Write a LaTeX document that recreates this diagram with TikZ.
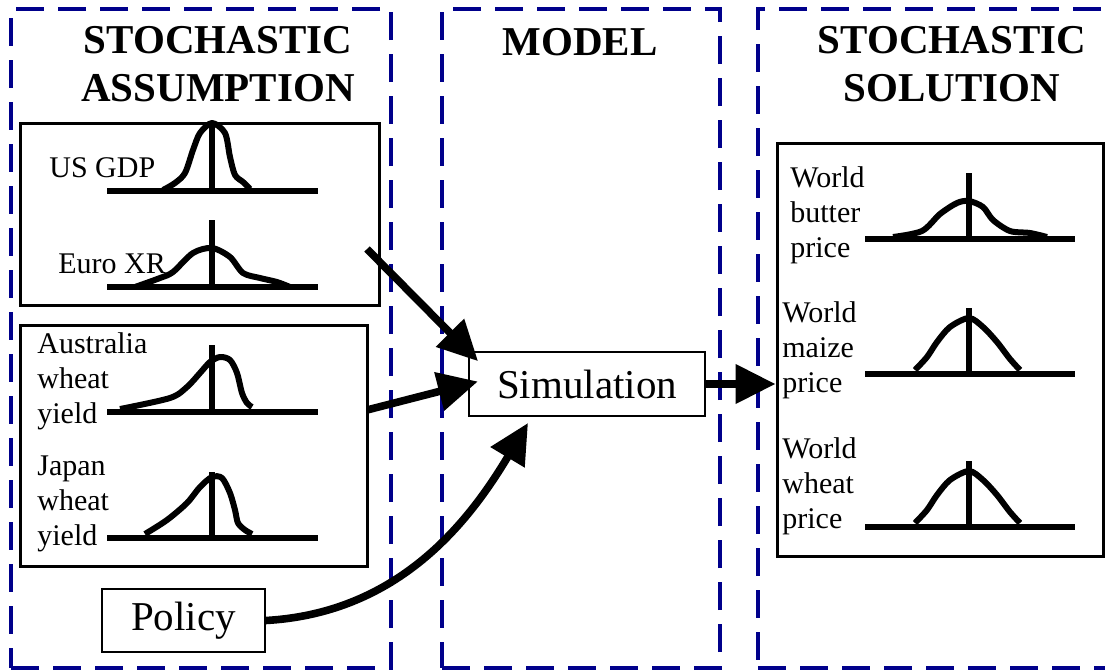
\documentclass[tikz,border=0pt]{standalone}
\usepackage{fontspec}
\setmainfont{Liberation Serif}
\usetikzlibrary{arrows.meta,fit}
\definecolor{panelnavy}{RGB}{0,0,139}

\begin{document}
\begin{tikzpicture}[x=0.5pt,y=-0.5pt,
    column/.style={draw=panelnavy,line width=1.6pt,dash pattern=on 14pt off 7pt,inner sep=0pt},
    setbox/.style={draw,line width=1.5pt,inner sep=0pt},
    heading/.style={font=\fontsize{20.5}{24}\selectfont\bfseries,align=center},
    varlabel/.style={font=\fontsize{15}{17.5}\selectfont,align=left,anchor=west,inner sep=0pt},
    procbox/.style={draw,line width=0.8pt,font=\fontsize{20.5}{24}\selectfont},
    axisline/.style={line width=3.3pt},
    density/.style={line width=3pt,line join=round},
    flow/.style={line width=3.8pt,-{Triangle[length=20pt,width=19pt]}}]
  \useasboundingbox (0,0) rectangle (1105,670);
  % columns and headings
  \node (assume) [column,fit={(11,9) (391,668)}] {};
  \node (model) [column,fit={(442,9) (720,668)}] {};
  \node (solve) [column,fit={(758,9) (1125,668)}] {};
  \node (tassume) [heading] at (218,64) {STOCHASTIC\\ASSUMPTION};
  \node (tmodel) [heading] at (580,42) {MODEL};
  \node (tsolve) [heading] at (952,64) {STOCHASTIC\\SOLUTION};
  % input groups
  \node (macro) [setbox,fit={(20,123) (379,305)}] {};
  \node (yields) [setbox,fit={(20,325) (367,566)}] {};
  \node (prices) [setbox,fit={(777,143) (1103,556)}] {};
  % US GDP
  \node (gdp) [varlabel,anchor=base west] at (49,177) {US GDP};
  \draw[axisline] (107,191) -- (318,191) (212,191) -- (212,122);
  \draw[density] plot[smooth] coordinates {(163,190) (175,183) (185,173) (193,150)
    (200,133) (212,123) (225,133) (230,157) (235,175) (243,182) (250,189)};
  % Euro XR
  \node (euro) [varlabel,anchor=base west] at (58,273) {Euro XR};
  \draw[axisline] (107,287) -- (318,287) (212,287) -- (212,220);
  \draw[density] plot[smooth] coordinates {(135,287) (160,278) (173,272) (193,253)
    (212,248) (230,257) (243,273) (260,278) (277,282) (290,287)};
  % Australia wheat yield
  \node (auswheat) [varlabel] at (37,381) {Australia\\wheat\\yield};
  \draw[axisline] (107,412) -- (318,412) (212,412) -- (212,345);
  \draw[density] plot[smooth] coordinates {(120,409) (170,398) (187,387) (200,373)
    (210,362) (220,357) (230,360) (237,373) (242,393) (247,403) (252,407)};
  % Japan wheat yield
  \node (jpwheat) [varlabel] at (37,504) {Japan\\wheat\\yield};
  \draw[axisline] (107,538) -- (318,538) (212,538) -- (212,472);
  \draw[density] plot[smooth] coordinates {(145,534) (167,520) (187,503) (200,487)
    (212,477) (222,478) (230,493) (235,510) (238,523) (245,530) (252,534)};
  % World butter price
  \node (butter) [varlabel] at (790,215) {World\\butter\\price};
  \draw[axisline] (865,239) -- (1075,239) (969,239) -- (969,173);
  \draw[density] plot[smooth] coordinates {(893,237) (922,231) (940,214) (957,203)
    (969,201) (983,207) (993,220) (1010,231) (1030,233) (1047,237)};
  % World maize price
  \node (maize) [varlabel] at (782,350) {World\\maize\\price};
  \draw[axisline] (865,374) -- (1075,374) (969,374) -- (969,308);
  \draw[density] plot[smooth] coordinates {(915,370) (927,357) (937,342) (950,327)
    (969,318) (983,327) (997,342) (1010,359) (1020,370)};
  % World wheat price
  \node (wheat) [varlabel] at (782,486) {World\\wheat\\price};
  \draw[axisline] (865,527) -- (1075,527) (969,527) -- (969,461);
  \draw[density] plot[smooth] coordinates {(915,523) (927,510) (937,495) (950,480)
    (969,471) (983,480) (997,495) (1010,512) (1020,523)};
  % model
  \node (sim) [procbox,minimum width=118pt,minimum height=32pt] at (587,384) {Simulation};
  \node (policy) [procbox,minimum width=81.5pt,minimum height=31.5pt] at (183.5,620.5) {Policy};
  % connectors
  \coordinate (fromA) at (367,249);
  \coordinate (fromB) at (367,410);
  \coordinate (simIn) at (528,423);
  \draw[flow,shorten >=-7pt] (fromA) -- (sim.north west);
  \draw[flow,shorten >=-5pt] (fromB) -- (sim.west);
  \draw[flow] (policy.east) .. controls (400,613) and (470,520) .. (simIn);
  \draw[flow] (sim.east) -- (sim.east -| prices.west);
\end{tikzpicture}
\end{document}
